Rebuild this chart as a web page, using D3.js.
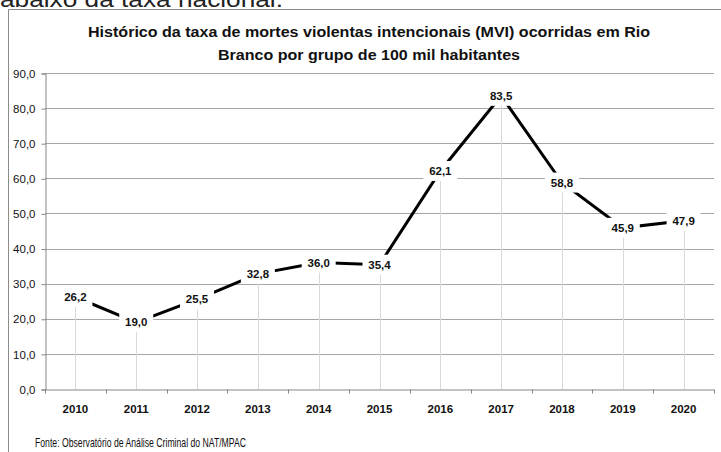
<!DOCTYPE html>
<html>
<head>
<meta charset="utf-8">
<script src="https://cdn.jsdelivr.net/npm/d3@7"></script>
<style>
  body { margin: 0; background: #fff; }
  svg { display: block; font-family: "Liberation Sans", Arial, sans-serif; }
</style>
</head>
<body>
<div id="chart"></div>
<script>
// Data
var anos = ["2010", "2011", "2012", "2013", "2014", "2015", "2016", "2017", "2018", "2019", "2020"];
var taxas = [26.2, 19.0, 25.5, 32.8, 36.0, 35.4, 62.1, 83.5, 58.8, 45.9, 47.9];
var yTicks = [0, 10, 20, 30, 40, 50, 60, 70, 80, 90];
var titulo = ["Histórico da taxa de mortes violentas intencionais (MVI) ocorridas em Rio",
              "Branco por grupo de 100 mil habitantes"];
var fonte = "Fonte: Observatório de Análise Criminal do NAT/MPAC";

var width = 721, height = 452;
var plot = { left: 45, right: 714, top: 73, bottom: 389 };
var fmt = function (v) { return d3.format(".1f")(v).replace(".", ","); };

var svg = d3.select("#chart").append("svg")
    .attr("width", width)
    .attr("height", height);

// text above the chart (cut off in the picture)
svg.append("text")
    .attr("x", 0).attr("y", 7)
    .attr("font-size", 22)
    .attr("textLength", 283)
    .attr("lengthAdjust", "spacingAndGlyphs")
    .attr("fill", "#222")
    .text("abaixo da taxa nacional.");

// chart frame
svg.append("path")
    .attr("d", "M8.5," + height + "V9.5H" + width)
    .attr("fill", "none")
    .attr("stroke", "#8c8c8c")
    .attr("stroke-width", 1);

// Title
svg.selectAll(".title")
    .data(titulo)
    .enter().append("text")
    .attr("class", "title")
    .attr("x", 369)
    .attr("y", (d, i) => 37 + i * 23)
    .attr("text-anchor", "middle")
    .attr("font-size", 14.5)
    .attr("font-weight", "bold")
    .attr("textLength", (d, i) => i === 0 ? 562 : 302)
    .attr("lengthAdjust", "spacingAndGlyphs")
    .attr("fill", "#111")
    .text(d => d);

// Scales
var x = d3.scaleBand().domain(anos).range([plot.left, plot.right]).padding(0);
var y = d3.scaleLinear().domain([0, 90]).range([plot.bottom, plot.top]);

// gridlines
svg.append("g")
    .selectAll("line")
    .data(yTicks.slice(1))
    .enter().append("line")
    .attr("x1", plot.left).attr("x2", plot.right)
    .attr("y1", d => Math.round(y(d)) + 0.5)
    .attr("y2", d => Math.round(y(d)) + 0.5)
    .attr("stroke", "#a6a6a6");

// drop lines
svg.append("g")
    .selectAll("line")
    .data(taxas)
    .enter().append("line")
    .attr("x1", (d, i) => Math.round(x(anos[i]) + x.bandwidth() / 2) + 0.5)
    .attr("x2", (d, i) => Math.round(x(anos[i]) + x.bandwidth() / 2) + 0.5)
    .attr("y1", d => y(d))
    .attr("y2", plot.bottom)
    .attr("stroke", "#d9d9d9");

// Y axis
var yAxis = d3.axisLeft(y).tickValues(yTicks).tickSize(4).tickFormat(fmt);
var gy = svg.append("g")
    .attr("transform", "translate(" + (plot.left + 0.5) + ",0.5)")
    .call(yAxis);
gy.select(".domain").attr("stroke", "#868686");
gy.selectAll(".tick line").attr("stroke", "#868686");
gy.selectAll(".tick text")
    .attr("x", -10)
    .attr("font-size", 11.5)
    .attr("font-family", "Liberation Sans, Arial, sans-serif")
    .attr("fill", "#111");

// X axis
var xAxis = d3.axisBottom(x).tickSize(0).tickPadding(15);
var gx = svg.append("g")
    .attr("transform", "translate(0," + (plot.bottom + 0.5) + ")")
    .call(xAxis);
gx.select(".domain").attr("stroke", "#868686");
gx.selectAll(".tick text")
    .attr("font-size", 11.5)
    .attr("font-weight", "bold")
    .attr("font-family", "Liberation Sans, Arial, sans-serif")
    .attr("fill", "#111");
// tick marks between categories
gx.selectAll(".sep")
    .data(anos.concat(["end"]))
    .enter().append("line")
    .attr("class", "sep")
    .attr("x1", (d, i) => Math.round(plot.left + i * x.bandwidth()) + 0.5)
    .attr("x2", (d, i) => Math.round(plot.left + i * x.bandwidth()) + 0.5)
    .attr("y1", 0).attr("y2", 4)
    .attr("stroke", "#868686");

// Line
var line = d3.line()
    .x((d, i) => x(anos[i]) + x.bandwidth() / 2)
    .y(d => y(d));
svg.append("path")
    .datum(taxas)
    .attr("d", line)
    .attr("fill", "none")
    .attr("stroke", "#000")
    .attr("stroke-width", 3);

// Data labels with white boxes
var labels = svg.append("g")
    .selectAll("g")
    .data(taxas)
    .enter().append("g")
    .attr("transform", (d, i) => "translate(" + (x(anos[i]) + x.bandwidth() / 2) + "," + y(d) + ")");
labels.append("rect")
    .attr("x", -17).attr("y", -10)
    .attr("width", 34).attr("height", 20)
    .attr("fill", "#fff");
labels.append("text")
    .attr("text-anchor", "middle")
    .attr("dy", "0.35em")
    .attr("font-size", 11.5)
    .attr("font-weight", "bold")
    .attr("fill", "#111")
    .text(d => fmt(d));

// Source note
svg.append("text")
    .attr("x", 35).attr("y", 447)
    .attr("font-size", 13.5)
    .attr("font-family", "Liberation Sans Narrow, Liberation Sans, Arial, sans-serif")
    .attr("textLength", 211)
    .attr("lengthAdjust", "spacingAndGlyphs")
    .attr("fill", "#111")
    .text(fonte);
</script>
</body>
</html>
